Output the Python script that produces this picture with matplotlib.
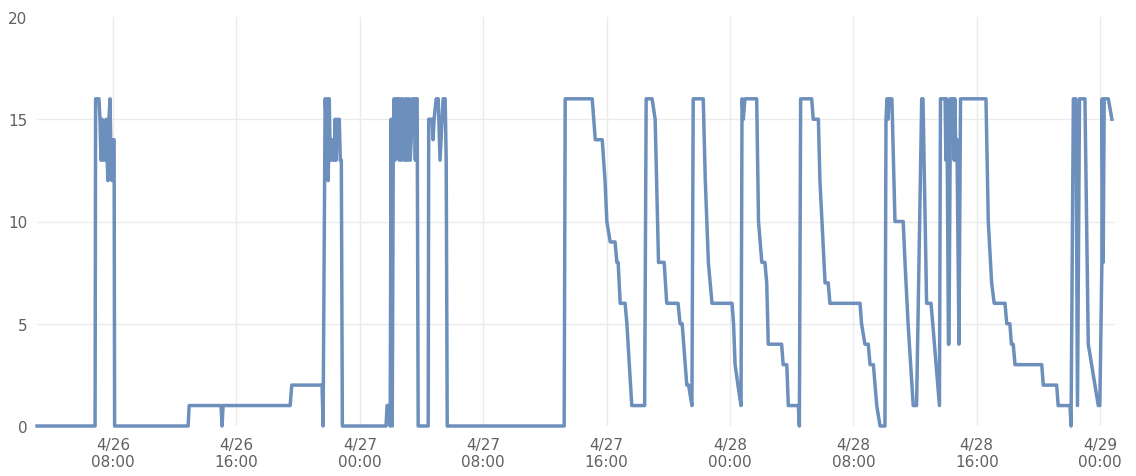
import pandas as pd
import matplotlib
matplotlib.use("Agg")
import matplotlib.pyplot as plt
import matplotlib.dates as mdates
from matplotlib.ticker import FuncFormatter

plt.rcParams['font.family'] = ['DejaVu Sans']

# readings per day (time of day, value)
YEAR = 2016
days = ["04-26", "04-27", "04-28", "04-29"]

t_0426 = ["03:04", "06:50", "06:52", "07:05", "07:09", "07:13", "07:17", "07:21", "07:25", "07:29",
          "07:33", "07:37", "07:40", "07:44", "07:48", "07:52", "07:56", "08:00", "08:04", "08:06",
          "12:52", "12:56", "15:00", "15:04", "15:08", "19:29", "19:35", "21:33", "21:37", "21:45",
          "21:49", "21:53", "21:57", "22:01", "22:05", "22:09", "22:13", "22:17", "22:21", "22:24",
          "22:28", "22:32", "22:36", "22:40", "22:44", "22:48", "22:52"]
v_0426 = [0, 0, 16, 16, 15, 13, 15, 13, 14, 13,
          15, 13, 12, 15, 16, 13, 12, 14, 14, 0,
          0, 1, 1, 0, 1, 1, 2, 2, 0, 16,
          15, 16, 12, 16, 13, 14, 13, 14, 13, 15,
          13, 15, 14, 15, 13, 13, 0]

t_0427 = ["01:42", "01:46", "01:54", "01:58", "02:02", "02:06", "02:10", "02:13", "02:17", "02:21",
          "02:25", "02:29", "02:33", "02:37", "02:41", "02:45", "02:49", "02:53", "02:56", "03:00",
          "03:04", "03:08", "03:12", "03:16", "03:20", "03:24", "03:32", "03:36", "03:39", "03:43",
          "03:47", "04:26", "04:28", "04:41", "04:45", "04:49", "04:57", "05:05", "05:12", "05:16",
          "05:24", "05:32", "05:36", "05:40", "13:15", "13:19", "15:04", "15:16", "15:43", "15:54",
          "16:01", "16:14", "16:33", "16:40", "16:45", "16:53", "17:12", "17:19", "17:38", "18:28",
          "18:34", "18:57", "19:09", "19:22", "19:44", "19:54", "20:38", "20:46", "20:54", "21:06",
          "21:12", "21:19", "21:32", "21:37", "22:16", "22:24", "22:30", "22:36", "22:50"]
v_0427 = [0, 1, 1, 0, 15, 0, 13, 16, 13, 16,
          14, 16, 13, 16, 13, 16, 14, 13, 16, 13,
          16, 13, 16, 13, 14, 16, 16, 13, 16, 16,
          0, 0, 15, 15, 14, 15, 16, 16, 13, 14,
          16, 16, 13, 0, 0, 16, 16, 14, 14, 12,
          10, 9, 9, 8, 8, 6, 6, 5, 1, 1,
          16, 16, 15, 8, 8, 6, 6, 5, 5, 3,
          2, 2, 1, 16, 16, 12, 10, 8, 6]

t_0428 = ["00:08", "00:14", "00:20", "00:31", "00:43", "00:47", "00:52", "00:58", "01:44", "01:51",
          "02:04", "02:16", "02:23", "02:29", "03:21", "03:27", "03:41", "03:47", "04:26", "04:30",
          "04:35", "05:18", "05:24", "05:44", "05:50", "06:10", "06:22", "06:29", "08:26", "08:32",
          "08:45", "08:58", "09:05", "09:18", "09:31", "09:44", "10:03", "10:07", "10:11", "10:15",
          "10:19", "10:30", "10:42", "11:14", "11:21", "11:33", "11:53", "12:06", "12:26", "12:31",
          "12:45", "13:02", "13:09", "13:35", "13:39", "13:57", "14:00", "14:04", "14:10", "14:12",
          "14:18", "14:28", "14:32", "14:35", "14:39", "14:43", "14:51", "14:57", "16:36", "16:45",
          "16:58", "17:08", "17:50", "17:57", "18:09", "18:15", "18:22", "18:29", "20:13", "20:19",
          "21:11", "21:17", "22:03", "22:07", "22:16", "22:26", "22:32", "22:40", "23:01", "23:14",
          "23:27", "23:40", "23:53", "23:59"]
v_0428 = [6, 5, 3, 2, 1, 16, 15, 16, 16, 10,
          8, 8, 7, 4, 4, 3, 3, 1, 1, 0,
          16, 16, 15, 15, 12, 7, 7, 6, 6, 5,
          4, 4, 3, 3, 1, 0, 0, 15, 16, 15,
          16, 16, 10, 10, 8, 5, 1, 1, 16, 16,
          6, 6, 5, 1, 16, 16, 13, 16, 4, 4,
          16, 16, 13, 16, 13, 14, 4, 16, 16, 10,
          7, 6, 6, 5, 5, 4, 4, 3, 3, 2,
          2, 1, 1, 0, 16, 16, 1, 16, 16, 4,
          3, 2, 1, 1]

t_0429 = ["00:07", "00:08", "00:12", "00:16", "00:32", "00:46"]
v_0429 = [8, 16, 8, 16, 16, 15]

x_start = "04-26 03:04"
x_end = "04-29 00:58"
y_ticks = [0, 5, 10, 15, 20]

stamps, vals = [], []
for day, ts, vs in zip(days, [t_0426, t_0427, t_0428, t_0429], [v_0426, v_0427, v_0428, v_0429]):
    stamps += [f"{YEAR}-{day} {t}" for t in ts]
    vals += vs
times = pd.to_datetime(stamps)

fig = plt.figure(figsize=(11.36, 4.77), dpi=100)
ax = fig.add_axes([37 / 1136, 50 / 477, 1078 / 1136, 409 / 477])

ax.plot(times, vals, color="#6d8fbc", lw=2.5, solid_joinstyle="round", clip_on=False, zorder=3)

ax.set_xlim(pd.Timestamp(f"{YEAR}-{x_start}"), pd.Timestamp(f"{YEAR}-{x_end}"))
ax.set_ylim(0, 20)
ax.set_yticks(y_ticks)


def fmt_date(x, pos):
    d = mdates.num2date(x)
    return f"{d.month}/{d.day}\n{d:%H:%M}"


ax.xaxis.set_major_locator(mdates.HourLocator(byhour=[0, 8, 16]))
ax.xaxis.set_major_formatter(FuncFormatter(fmt_date))

ax.grid(True, color="#ebebeb", lw=1)
ax.set_axisbelow(True)
gl = ax.get_ygridlines()
gl[0].set_visible(False)
gl[-1].set_visible(False)
for s in ax.spines.values():
    s.set_visible(False)

ax.tick_params(length=0, colors="#606060", labelsize=11)
ax.tick_params(axis="y", pad=7)
ax.tick_params(axis="x", pad=8)
for lab in ax.get_xticklabels():
    lab.set_linespacing(1.15)

fig.savefig("out.png", dpi=100)
